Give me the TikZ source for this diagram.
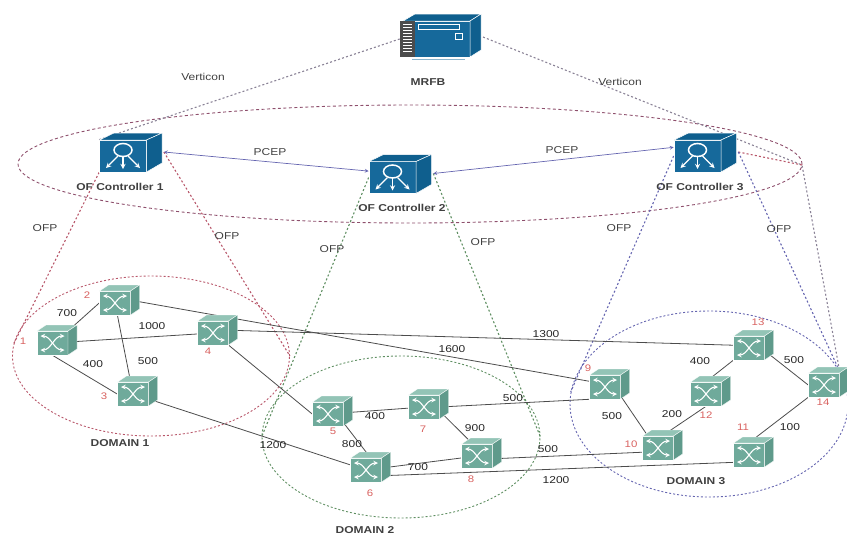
\documentclass[tikz,border=0pt]{standalone}
\usepackage{fontspec}
\setmainfont[FakeStretch=1.2]{Liberation Sans}
\usetikzlibrary{shapes.geometric, arrows, backgrounds, calc}

\definecolor{swteal}{HTML}{6FAA9B}
\definecolor{swtop}{HTML}{93C4B6}
\definecolor{swdark}{HTML}{5F9A8B}
\definecolor{icblue}{HTML}{16699B}
\definecolor{ictop}{HTML}{0F5F8E}
\definecolor{redline}{HTML}{B8576A}
\definecolor{ringline}{HTML}{8E4F6C}
\definecolor{greenline}{HTML}{5F8F62}
\definecolor{blueline}{HTML}{6565B0}
\definecolor{greyline}{HTML}{8A8296}
\definecolor{numred}{HTML}{D8615F}

\tikzset{
    switchface/.style={rectangle, draw=white, line width=0.6pt, fill=swteal, minimum width=31pt, minimum height=24pt, inner sep=0pt},
    switchtop/.style={fill=swtop, draw=white, line width=0.4pt},
    switchside/.style={fill=swdark, draw=white, line width=0.4pt},
    switchx/.style={<->, >=stealth, white, line width=1.1pt},
    ctrlface/.style={rectangle, draw=white, line width=0.7pt, fill=icblue, minimum width=47pt, minimum height=32pt, inner sep=0pt},
    ctrltop/.style={fill=ictop, draw=white, line width=0.5pt},
    ctrlicon/.style={->, >=stealth, white, line width=1.3pt},
    link/.style={draw=black!70, line width=0.8pt},
    pcep/.style={<->, >=stealth, color=blueline, line width=0.7pt},
    txt/.style={inner sep=0pt, font=\fontsize{10}{12}\selectfont, text=black!75},
    boldtxt/.style={inner sep=0pt, font=\fontsize{10}{12}\selectfont\bfseries, text=black!75},
    weight/.style={inner sep=0pt, font=\fontsize{10}{12}\selectfont, text=black!85},
    num/.style={inner sep=0pt, font=\fontsize{9.5}{12}\selectfont, text=numred},
    domring/.style={ellipse, line width=0.9pt, dash pattern=on 2pt off 2pt, inner sep=0pt},
    ofp/.style={line width=1.1pt, dash pattern=on 2pt off 2.2pt}
}

% name, x, y
\newcommand{\switchnode}[3]{
    \node[switchface] (#1) at (#2,#3) {};
    \begin{scope}[shift={(#2,#3)}]
        \filldraw[switchtop] (-15.5,-12) -- (-6.5,-18) -- (24.5,-18) -- (15.5,-12) -- cycle;
        \filldraw[switchside] (15.5,-12) -- (24.5,-18) -- (24.5,6) -- (15.5,12) -- cycle;
        \draw[switchx] (-12,-7) .. controls (-2,-7) and (2,7) .. (12,7);
        \draw[switchx] (-12,7) .. controls (-2,7) and (2,-7) .. (12,-7);
    \end{scope}
}
% name, x, y
\newcommand{\ctrlnode}[3]{
    \node[ctrlface] (#1) at (#2,#3) {};
    \begin{scope}[shift={(#2,#3)}]
        \filldraw[ctrltop] (-23.5,-16) -- (-9,-23) -- (39,-23) -- (23.5,-16) -- cycle;
        \filldraw[ctrltop] (23.5,-16) -- (39,-23) -- (39,7) -- (23.5,16) -- cycle;
        \draw[white, line width=1.5pt] (0,-6) ellipse (9pt and 6.5pt);
        \draw[ctrlicon] (-5,0) -- (-17,12);
        \draw[ctrlicon] (0,0) -- (0,13);
        \draw[ctrlicon] (5,0) -- (17,12);
    \end{scope}
    \coordinate (#1-side) at ($(#1.east)+(17,-4)$);
}

\begin{document}
\begin{tikzpicture}[x=1pt, y=-1pt]
\useasboundingbox (0,0) rectangle (847,536);

% MRFB server
\node[rectangle, draw=white, line width=0.6pt, fill=icblue, minimum width=70pt, minimum height=36pt, inner sep=0pt] (mrfb) at (435,39) {};
\filldraw[ctrltop] (403,21) -- (415,14) -- (481,14) -- (470,21) -- cycle;
\filldraw[ctrltop] (470,21) -- (481,14) -- (481,50) -- (470,57) -- cycle;
\fill[black!70] (400,21) rectangle (415,57);
\draw[white, line width=0.4pt] (403,24) -- (412,24) (403,27) -- (412,27) (403,30) -- (412,30) (403,33) -- (412,33) (403,36) -- (412,36) (403,39) -- (412,39) (403,42) -- (412,42) (403,45) -- (412,45) (403,48) -- (412,48) (403,51) -- (412,51);
\draw[white, line width=0.8pt] (418,24) rectangle (459,29);
\draw[white, line width=0.8pt] (455,33) rectangle (462,39);
\draw[icblue!50, line width=0.8pt] (412,59) -- (465,59);
\coordinate (mrfb-side) at (483,37);
\node[boldtxt] (mrfblabel) at (428,82) {MRFB};

% OF controllers
\ctrlnode{ctrlA}{123}{156}
\ctrlnode{ctrlB}{392.5}{177.5}
\ctrlnode{ctrlC}{697.5}{156}
\node[boldtxt] (ctrlAlabel) at (120,187) {OF Controller 1};
\node[boldtxt] (ctrlBlabel) at (402,208) {OF Controller 2};
\node[boldtxt] (ctrlClabel) at (700,187) {OF Controller 3};

% Domain 1 switches
\switchnode{sw1}{52.5}{343}
\switchnode{sw2}{115}{303}
\switchnode{sw3}{133}{394}
\switchnode{sw4}{213}{333}

% Domain 2 switches
\switchnode{sw5}{328}{414}
\switchnode{sw6}{366}{470}
\switchnode{sw7}{424}{407}
\switchnode{sw8}{477}{456}

% Domain 3 switches
\switchnode{sw9}{605}{387}
\switchnode{sw10}{658}{448}
\switchnode{sw11}{749}{455}
\switchnode{sw12}{706}{394}
\switchnode{sw13}{749}{348}
\switchnode{sw14}{824}{385}

% Switch numbers
\node[num] (num1) at (23,341) {1};
\node[num] (num2) at (87,295) {2};
\node[num] (num3) at (104,396) {3};
\node[num] (num4) at (208,351) {4};
\node[num] (num5) at (333,431) {5};
\node[num] (num6) at (370,493) {6};
\node[num] (num7) at (423,429) {7};
\node[num] (num8) at (471,479) {8};
\node[num] (num9) at (588,368) {9};
\node[num] (num10) at (631,444) {10};
\node[num] (num11) at (743,427) {11};
\node[num] (num12) at (706,415) {12};
\node[num] (num13) at (758,322) {13};
\node[num] (num14) at (823,402) {14};

% Domain rings
\begin{pgfonlayer}{background}
\node[domring, draw=ringline, dash pattern=on 3pt off 2.5pt, minimum width=784pt, minimum height=118pt] (ofring) at (410,164) {};
\node[domring, draw=redline, minimum width=277pt, minimum height=160pt] (domA) at (151,356) {};
\node[domring, draw=greenline, minimum width=278pt, minimum height=162pt] (domB) at (401,437) {};
\node[domring, draw=blueline, minimum width=278pt, minimum height=186pt] (domC) at (709,404) {};
\coordinate (ringtip) at (802,165);

% Verticon lines
\draw[ofp, draw=greyline] (mrfb.west) -- (ctrlA.north west);
\draw[ofp, draw=greyline] (mrfb-side) -- (ringtip) -- (domC.14);

% OFP lines
\draw[ofp, draw=redline] (ctrlA.south west) -- (domA.175);
\draw[ofp, draw=redline] (ctrlA-side) -- (domA.east);
\draw[ofp, draw=redline] (ctrlC-side) -- (ringtip);
\draw[ofp, draw=greenline] (ctrlB.west) -- (domB.west);
\draw[ofp, draw=greenline] (ctrlB-side) -- (domB.east);
\draw[ofp, draw=blueline] (ctrlC.west) -- (domC.175);
\draw[ofp, draw=blueline] (ctrlC-side) -- (domC.14);

% Links between switches
\draw[link] (sw1.north east) -- (sw2.west);
\draw[link] (sw1) -- (sw4);
\draw[link] (sw1.south) -- (sw3.west);
\draw[link] (sw2) -- (sw3);
\draw[link] (sw2.10) -- (sw9.160);
\draw[link] (sw4.10) -- (sw13.170);
\draw[link] (sw4.south east) -- (sw5.west);
\draw[link] (sw3) -- (sw6);
\draw[link] (sw5) -- (sw7);
\draw[link] (sw5.-30) -- (sw6.70);
\draw[link] (sw7.-15) -- (sw8.110);
\draw[link] (sw7.east) -- (sw9.south west);
\draw[link] (sw6) -- (sw8);
\draw[link] (sw6.-20) -- (sw11.-155);
\draw[link] (sw8.-10) -- (sw10.195);
\draw[link] (sw9.-30) -- (sw10.130);
\draw[link] (sw10.70) -- (sw12.south);
\draw[link] (sw12.north) -- (sw13.south west);
\draw[link] (sw13.-10) -- (sw14.west);
\draw[link] (sw11.north) -- (sw14.south west);
\end{pgfonlayer}

% PCEP arrows
\draw[pcep] (ctrlA-side) -- (ctrlB.165);
\draw[pcep] (ctrlB-side) -- (ctrlC.160);

% Line labels
\node[txt] (vertA) at (203,77) {Verticon};
\node[txt] (vertB) at (620,82) {Verticon};
\node[txt] (pcepA) at (270,152) {PCEP};
\node[txt] (pcepB) at (562,150) {PCEP};
\node[txt] (ofpA) at (45,228) {OFP};
\node[txt] (ofpB) at (227,236) {OFP};
\node[txt] (ofpC) at (332,249) {OFP};
\node[txt] (ofpD) at (483,242) {OFP};
\node[txt] (ofpE) at (619,228) {OFP};
\node[txt] (ofpF) at (779,229) {OFP};

% Link weights
\node[weight] (w12) at (67,313) {700};
\node[weight] (w14) at (152,326) {1000};
\node[weight] (w13) at (93,364) {400};
\node[weight] (w23) at (148,361) {500};
\node[weight] (w29) at (452,349) {1600};
\node[weight] (w413) at (546,334) {1300};
\node[weight] (w36) at (273,445) {1200};
\node[weight] (w57) at (375,416) {400};
\node[weight] (w56) at (352,444) {800};
\node[weight] (w78) at (475,428) {900};
\node[weight] (w68) at (418,467) {700};
\node[weight] (w611) at (556,480) {1200};
\node[weight] (w810) at (548,449) {500};
\node[weight] (w79) at (513,398) {500};
\node[weight] (w910) at (612,416) {500};
\node[weight] (w1012) at (672,414) {200};
\node[weight] (w1213) at (700,361) {400};
\node[weight] (w1314) at (794,360) {500};
\node[weight] (w1114) at (790,427) {100};

% Domain names
\node[boldtxt] (nameA) at (120,443) {DOMAIN 1};
\node[boldtxt] (nameB) at (365,530) {DOMAIN 2};
\node[boldtxt] (nameC) at (696,481) {DOMAIN 3};

\end{tikzpicture}
\end{document}
